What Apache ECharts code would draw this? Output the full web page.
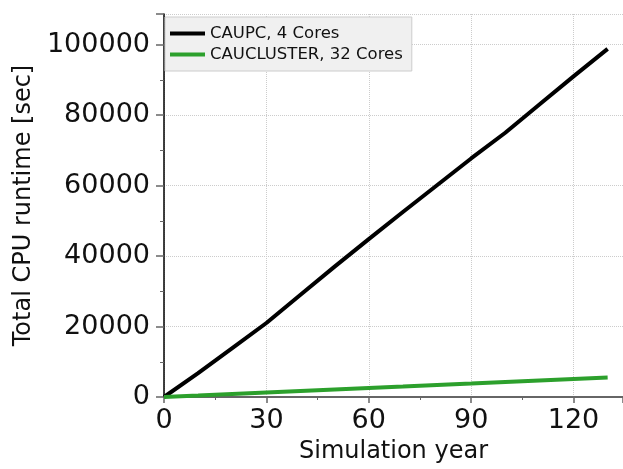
<!DOCTYPE html>
<html><head><meta charset="utf-8">
<script src="https://cdn.jsdelivr.net/npm/echarts@6/dist/echarts.min.js"></script>
<style>html,body{margin:0;padding:0;background:#fff}#c{width:623px;height:469px}</style>
</head><body><div id="c"></div>
<script>
const years = [0, 10, 20, 30, 40, 50, 60, 70, 80, 90, 100, 110, 120, 130];
const caupc = [0, 6800, 13900, 21000, 29000, 37000, 44800, 52500, 60100, 67700, 75000, 83000, 91000, 98800];
const caucluster = [0, 420, 850, 1280, 1700, 2120, 2550, 2970, 3400, 3820, 4250, 4670, 5100, 5500];
const seriesNames = ['CAUPC, 4 Cores', 'CAUCLUSTER, 32 Cores'];
const xTicks = [0, 30, 60, 90, 120];
const yTicks = [0, 20000, 40000, 60000, 80000, 100000];

const font = 'DejaVu Sans';
const chart = echarts.init(document.getElementById('c'));
chart.setOption({
  animation: false,
  grid: {left: 164, right: 0, top: 14, bottom: 68},
  legend: {
    orient: 'vertical', left: 165, top: 17,
    padding: [8, 9, 8, 5], itemGap: 4,
    backgroundColor: '#f0f0f0', borderColor: '#cccccc', borderWidth: 1,
    icon: 'rect', itemWidth: 35, itemHeight: 4,
    textStyle: {fontFamily: font, fontSize: 16.5, color: '#111', lineHeight: 16},
    data: seriesNames
  },
  xAxis: {
    type: 'value', min: 0, max: 134.5, interval: 30,
    name: 'Simulation year', nameLocation: 'middle', nameGap: 43,
    nameTextStyle: {fontFamily: font, fontSize: 24, color: '#111'},
    axisLine: {show: true, lineStyle: {color: '#666', width: 2}},
    axisTick: {show: true, length: 6, lineStyle: {color: '#666', width: 1.5}},
    minorTick: {show: true, splitNumber: 2, length: 3, lineStyle: {color: '#666', width: 1}},
    axisLabel: {fontFamily: font, fontSize: 27, color: '#111', margin: 10, showMaxLabel: false,
      formatter: v => xTicks.includes(v) ? String(v) : ''},
    splitLine: {show: true, lineStyle: {color: '#cccccc', type: 'dotted', width: 1}}
  },
  yAxis: {
    type: 'value', min: 0, max: 108700, interval: 20000,
    name: 'Total CPU runtime [sec]', nameLocation: 'middle', nameGap: 126,
    nameTextStyle: {fontFamily: font, fontSize: 24, color: '#111'},
    axisLine: {show: true, lineStyle: {color: '#000', width: 1.5}},
    axisTick: {show: true, length: 8, lineStyle: {color: '#666', width: 1.5}},
    minorTick: {show: true, splitNumber: 2, length: 4, lineStyle: {color: '#666', width: 1}},
    axisLabel: {fontFamily: font, fontSize: 27, color: '#111', margin: 14, showMaxLabel: false,
      formatter: v => yTicks.includes(v) ? String(v) : ''},
    splitLine: {show: true, lineStyle: {color: '#cccccc', type: 'dotted', width: 1}}
  },
  series: [
    {name: seriesNames[0], type: 'line', data: years.map((y, i) => [y, caupc[i]]),
     showSymbol: false, lineStyle: {color: '#000', width: 4}, itemStyle: {color: '#000'}},
    {name: seriesNames[1], type: 'line', data: years.map((y, i) => [y, caucluster[i]]),
     showSymbol: false, lineStyle: {color: '#2ca02c', width: 4}, itemStyle: {color: '#2ca02c'}}
  ]
});
</script></body></html>
